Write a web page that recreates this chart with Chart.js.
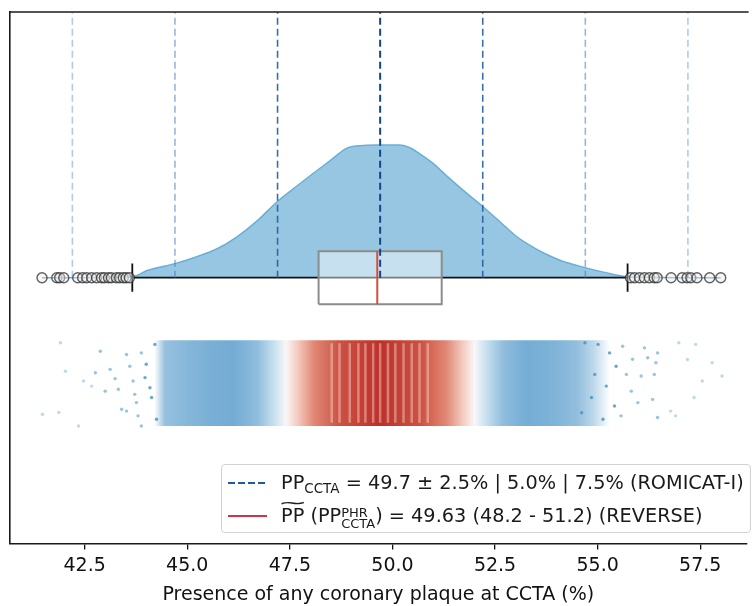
<!DOCTYPE html>
<html>
<head>
<meta charset="utf-8">
<script src="https://cdn.jsdelivr.net/npm/chart.js@4.4.1/dist/chart.umd.min.js"></script>
<style>
  html, body { margin: 0; padding: 0; background: #fff; }
  #wrap { position: relative; width: 753px; height: 606px; overflow: hidden; }
  #legend {
    position: absolute; left: 221px; top: 464px; width: 530px; height: 69px;
    box-sizing: border-box; border: 1px solid #d2d2d2; border-radius: 4px;
    background: rgba(255, 255, 255, 0.85);
    font-family: 'DejaVu Sans', sans-serif; font-size: 19.3px; color: #1a1a1a;
  }
  .row { position: absolute; left: 0; right: 0; height: 30px; }
  .row .h { position: absolute; left: 6px; width: 39px; height: 2px; top: 14px; }
  .row .t { position: absolute; left: 59px; top: 0; line-height: 30px; white-space: nowrap; }
  .dash { background: repeating-linear-gradient(to right, #1f5a9a 0 7px, transparent 7px 10px); }
  .solid { background: #d4314a; }
  .sub { font-size: 13.5px; position: relative; top: 4px; }
  .tl { position: relative; display: inline-block; }
  .tl::before {
    content: '~'; position: absolute; left: 0; right: 0; top: -13px;
    text-align: center; transform: scaleX(2.1); font-size: 17px;
  }
  .ss { display: inline-block; vertical-align: -6px; font-size: 13px; line-height: 11.5px; text-align: left; }
  .ss span { display: block; }
</style>
</head>
<body>
<div id="wrap">
  <canvas id="chart" width="753" height="606"></canvas>
  <div id="legend">
    <div class="row" style="top:3px"><span class="h dash"></span><span class="t" id="leg1"></span></div>
    <div class="row" style="top:36px"><span class="h solid"></span><span class="t" id="leg2"></span></div>
  </div>
</div>
<script>
// --- data ---
const xTicks = [42.5, 45.0, 47.5, 50.0, 52.5, 55.0, 57.5];
const refCenter = 49.7;
const refSteps = [2.5, 5.0, 7.5];
const refLines = [42.2, 44.7, 47.2, 49.7, 52.2, 54.7, 57.2];

// half-violin (kde) outline: value -> height
const violinX = [41.46, 43.66, 44.04, 44.70, 45.25, 45.74, 46.22, 46.71, 47.19, 47.67, 48.08, 48.52,
  48.88, 49.20, 49.61, 50.16, 50.41, 50.65, 50.99, 51.30, 51.79, 52.20, 52.75, 53.00, 53.31, 53.72, 54.13,
  54.69, 55.17, 55.73, 58.00];
const violinH = [0, 0.004, 0.028, 0.053, 0.08, 0.11, 0.155, 0.215, 0.286, 0.345, 0.394, 0.445,
  0.487, 0.497, 0.499, 0.499, 0.49, 0.468, 0.43, 0.386, 0.32, 0.268, 0.192, 0.158, 0.125, 0.09, 0.063,
  0.038, 0.02, 0.004, 0];

// box: q1, median, q3 ; whisker ends
const boxStats = [48.2, 49.63, 51.2];
const whiskers = [43.66, 55.73];
const outliers = [41.46, 41.82, 41.89, 41.99, 42.33, 42.45, 42.55, 42.67, 42.79, 42.91, 42.98, 43.08,
  43.15, 43.27, 43.35, 43.44, 43.51, 43.59,
  55.80, 55.90, 56.02, 56.14, 56.26, 56.38, 56.45, 56.79, 57.06, 57.18, 57.27, 57.42, 57.73, 58.00];

// jittered strip: dense core as density along x, sparse tails as single points
const stripX = [44.2, 44.45, 45.0, 45.6, 46.4, 47.0, 47.5, 48.0, 49.7, 51.4, 51.9, 52.4, 53.2, 54.0, 54.5, 54.9, 55.3];
const stripDensity = [0, 0.55, 0.65, 0.72, 0.78, 0.82, 0.9, 0.93, 0.96, 0.93, 0.9, 0.82, 0.76, 0.68, 0.58, 0.35, 0];
const stripeX = [48.52, 48.71, 48.96, 49.17, 49.34, 49.53, 49.70, 49.89, 50.07, 50.27, 50.47, 50.66, 50.86];
const tailX = [41.91, 41.47, 42.03, 41.87, 42.35, 42.47, 42.67, 42.88, 42.76, 43.00, 43.12, 43.24, 43.32,
  43.40, 43.52, 43.52, 43.60, 43.68, 43.72, 43.76, 43.80, 43.88, 43.97, 44.00, 44.09, 44.13, 44.21, 44.25, 43.88,
  58.03, 57.79, 57.55, 57.39, 57.35, 57.19, 56.98, 56.90, 56.78, 56.46, 56.42, 56.38, 56.34, 56.46, 56.22,
  56.14, 56.06, 55.98, 55.85, 55.82, 55.70, 55.61, 55.57, 55.45, 55.41, 55.29, 55.21, 55.13, 55.01, 54.93,
  54.85, 54.69, 54.61];
const tailY = [-0.245, -0.514, -0.352, -0.507, -0.558, -0.389, -0.408, -0.277, -0.358, -0.427, -0.345, -0.380, -0.420,
  -0.495, -0.289, -0.502, -0.333, -0.389, -0.439, -0.470, -0.520, -0.283, -0.376, -0.326, -0.414, -0.451, -0.251, -0.533, -0.558,
  -0.370, -0.320, -0.389, -0.251, -0.451, -0.308, -0.245, -0.520, -0.502, -0.283, -0.320, -0.364, -0.458, -0.526, -0.301,
  -0.264, -0.370, -0.470, -0.307, -0.427, -0.364, -0.258, -0.520, -0.333, -0.483, -0.283, -0.408, -0.533, -0.251, -0.364,
  -0.451, -0.245, -0.508];

// --- layout in y units (axis runs -1..1, violin sits on 0) ---
const BOX_HALF = 0.1;
const CAP_HALF = 0.053;
const STRIP_TOP = -0.235;
const STRIP_BOT = -0.558;
const FONT = 'DejaVu Sans';

document.getElementById('leg1').innerHTML =
  'PP<span class="sub">CCTA</span> = ' + refCenter.toFixed(1) + ' ± ' +
  refSteps.map(s => s.toFixed(1) + '%').join(' | ') + ' (ROMICAT-I)';
document.getElementById('leg2').innerHTML =
  '<span class="tl">PP</span> (PP<span class="ss"><span>PHR</span><span>CCTA</span></span>) = ' +
  boxStats[1].toFixed(2) + ' (' + boxStats[0].toFixed(1) + ' - ' + boxStats[2].toFixed(1) + ') (REVERSE)';

function refColor(x) {
  const d = Math.abs(x - refCenter);
  if (d < 0.1) return 'rgba(20,70,135,1)';
  if (d < 3) return 'rgba(35,95,160,0.9)';
  if (d < 6) return 'rgba(60,125,185,0.55)';
  return 'rgba(60,125,185,0.4)';
}

// RdBu-like shading by distance from the centre
const cmapStops = [
  [0.0, [185, 40, 33]], [1.0, [202, 72, 56]], [1.6, [222, 125, 105]], [2.0, [242, 195, 182]],
  [2.3, [248, 246, 246]], [2.6, [185, 216, 234]], [3.0, [115, 172, 212]], [3.6, [70, 145, 198]], [9, [62, 138, 193]]
];
function cmap(d) {
  for (let i = 1; i < cmapStops.length; i++) {
    if (d <= cmapStops[i][0]) {
      const [d0, c0] = cmapStops[i - 1], [d1, c1] = cmapStops[i];
      const t = (d - d0) / (d1 - d0);
      return c0.map((c, k) => Math.round(c + (c1[k] - c) * t));
    }
  }
  return cmapStops[cmapStops.length - 1][1];
}
function densityAt(v) {
  for (let i = 1; i < stripX.length; i++) {
    if (v <= stripX[i]) {
      const t = (v - stripX[i - 1]) / (stripX[i] - stripX[i - 1]);
      return stripDensity[i - 1] + (stripDensity[i] - stripDensity[i - 1]) * t;
    }
  }
  return 0;
}
function stripGradient(context) {
  const chart = context.chart;
  const area = chart.chartArea;
  if (!area) return 'rgba(0,0,0,0)';
  const xs = chart.scales.x;
  const g = chart.ctx.createLinearGradient(area.left, 0, area.right, 0);
  const w = area.right - area.left;
  for (let v = stripX[0]; v <= stripX[stripX.length - 1] + 1e-9; v += 0.05) {
    const p = Math.min(1, Math.max(0, (xs.getPixelForValue(v) - area.left) / w));
    const c = cmap(Math.abs(v - refCenter));
    g.addColorStop(p, 'rgba(' + c[0] + ',' + c[1] + ',' + c[2] + ',' + densityAt(v).toFixed(3) + ')');
  }
  return g;
}

function vline(x, y0, y1, opts) {
  return Object.assign({ data: [{ x: x, y: y0 }, { x: x, y: y1 }], pointRadius: 0, fill: false }, opts);
}

const datasets = [];
refLines.forEach(x => datasets.push(vline(x, 0, 1, {
  borderColor: refColor(x), borderWidth: Math.abs(x - refCenter) < 0.1 ? 2 : 1.6, borderDash: [7, 4], order: 1
})));
datasets.push(vline(boxStats[1], -BOX_HALF, BOX_HALF, { borderColor: '#d1503a', borderWidth: 2, order: 2 }));
datasets.push({
  data: [{ x: boxStats[0], y: -BOX_HALF }, { x: boxStats[2], y: -BOX_HALF }, { x: boxStats[2], y: BOX_HALF },
         { x: boxStats[0], y: BOX_HALF }, { x: boxStats[0], y: -BOX_HALF }],
  borderColor: '#8c8c8c', borderWidth: 2, backgroundColor: 'rgba(255,255,255,0.45)', fill: 'shape',
  pointRadius: 0, order: 3
});
datasets.push({
  data: outliers.map(x => ({ x: x, y: 0 })), showLine: false, pointRadius: 5,
  pointBackgroundColor: 'rgba(235,235,235,0.4)', pointBorderColor: 'rgba(45,45,45,0.75)', pointBorderWidth: 1.4,
  order: 4
});
datasets.push({
  data: whiskers.map(x => ({ x: x, y: 0 })), borderColor: '#111', borderWidth: 1.8, pointRadius: 0, fill: false, order: 5
});
whiskers.forEach(x => datasets.push(vline(x, -CAP_HALF, CAP_HALF, { borderColor: '#111', borderWidth: 1.8, order: 5 })));
datasets.push({
  data: violinX.map((x, i) => ({ x: x, y: violinH[i] })), borderColor: '#6baed6', borderWidth: 1.5,
  backgroundColor: 'rgba(107,174,214,0.7)', fill: { value: 0 }, cubicInterpolationMode: 'monotone',
  pointRadius: 0, order: 6
});
stripeX.forEach(x => datasets.push(vline(x, STRIP_BOT + 0.012, STRIP_TOP - 0.012, {
  borderColor: 'rgba(255,236,230,0.4)', borderWidth: 2.5, order: 7
})));
datasets.push({
  data: tailX.map((x, i) => ({ x: x, y: tailY[i] })), showLine: false, pointRadius: 1.7, pointBorderWidth: 0,
  pointBackgroundColor: ctx => {
    const d = Math.abs(tailX[ctx.dataIndex] - refCenter);
    return d > 7 ? 'rgba(67,147,195,0.35)' : d > 5.8 ? 'rgba(67,147,195,0.55)' : 'rgba(67,147,195,0.8)';
  },
  order: 8
});
datasets.push({
  data: [{ x: stripX[0], y: STRIP_TOP }, { x: stripX[stripX.length - 1], y: STRIP_TOP }],
  borderWidth: 0, pointRadius: 0, backgroundColor: stripGradient, fill: { value: STRIP_BOT }, order: 9
});

const frame = {
  id: 'frame',
  afterDraw(chart) {
    const { ctx, chartArea: a } = chart;
    ctx.save();
    ctx.strokeStyle = '#1a1a1a';
    ctx.lineWidth = 1.6;
    ctx.beginPath();
    ctx.moveTo(a.left - 0.8, a.top);
    ctx.lineTo(a.right + 2, a.top);
    ctx.stroke();
    ctx.restore();
  }
};

new Chart(document.getElementById('chart'), {
  type: 'line',
  data: { datasets: datasets },
  options: {
    responsive: false,
    animation: false,
    devicePixelRatio: 1,
    layout: { padding: { left: 10, top: 12, right: 0, bottom: 0 } },
    elements: { line: { tension: 0 }, point: { radius: 0 } },
    plugins: { legend: { display: false }, tooltip: { enabled: false } },
    scales: {
      x: {
        type: 'linear', min: 40.68, max: 58.63,
        afterBuildTicks: s => { s.ticks = xTicks.map(v => ({ value: v })); },
        ticks: {
          callback: v => Number(v).toFixed(1), autoSkip: false, maxRotation: 0, padding: 5,
          color: '#111', font: { family: FONT, size: 19 }
        },
        grid: { display: true, drawOnChartArea: false, drawTicks: true, tickLength: 6, color: '#111', lineWidth: 1.3 },
        border: { display: true, color: '#1a1a1a', width: 1.6 },
        title: {
          display: true, text: 'Presence of any coronary plaque at CCTA (%)', color: '#111',
          font: { family: FONT, size: 19 }, padding: { top: 1, bottom: 0 }
        }
      },
      y: {
        type: 'linear', min: -1, max: 1,
        ticks: { display: false },
        grid: { display: false, drawTicks: false },
        border: { display: true, color: '#1a1a1a', width: 1.6 }
      }
    }
  },
  plugins: [frame]
});
</script>
</body>
</html>
